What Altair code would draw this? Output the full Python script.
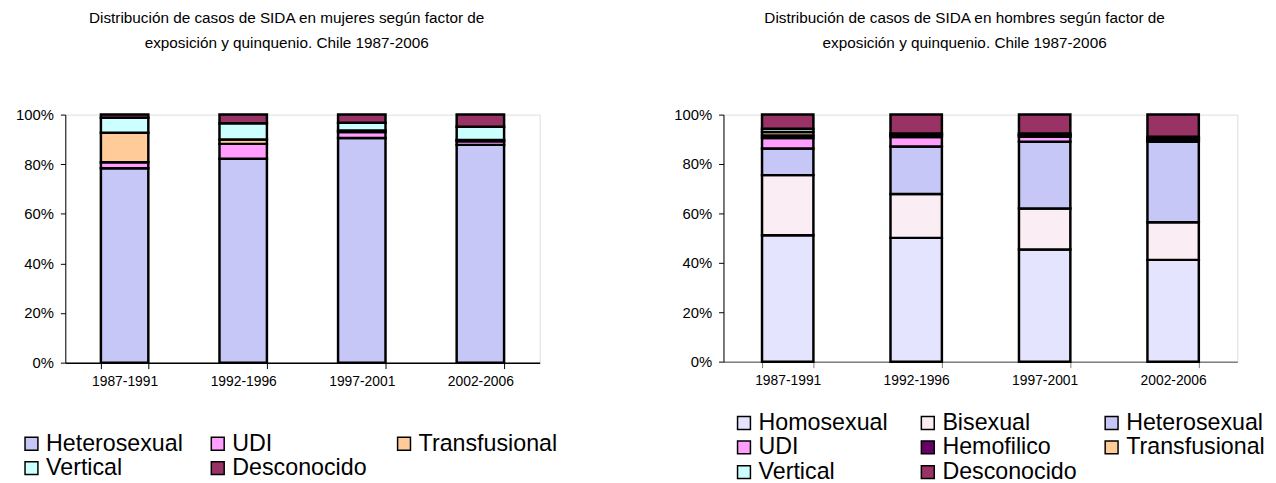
import altair as alt
import pandas as pd

quinquenios = ["1987-1991", "1992-1996", "1997-2001", "2002-2006"]

# Mujeres
factores_m = ["Heterosexual", "UDI", "Transfusional", "Vertical", "Desconocido"]
m_heterosexual = [78.4, 82.2, 90.6, 87.8]
m_udi = [2.4, 6.0, 2.4, 1.5]
m_transfusional = [11.9, 1.8, 0.6, 0.5]
m_vertical = [6.0, 6.5, 3.1, 5.3]
m_desconocido = [1.3, 3.5, 3.3, 4.9]
colores_m = ["#C6C6F7", "#FF9EFF", "#FFCC99", "#CCFFFF", "#993366"]

# Hombres
factores_h = ["Homosexual", "Bisexual", "Heterosexual", "UDI", "Hemofilico",
              "Transfusional", "Vertical", "Desconocido"]
h_homosexual = [51.2, 50.1, 45.4, 41.2]
h_bisexual = [24.3, 17.8, 16.6, 15.2]
h_heterosexual = [10.8, 19.2, 27.0, 32.6]
h_udi = [4.2, 3.8, 2.0, 0.6]
h_hemofilico = [1.0, 0.8, 0.5, 0.5]
h_transfusional = [1.5, 0.3, 0.4, 0.3]
h_vertical = [1.3, 0.4, 0.5, 0.6]
h_desconocido = [5.7, 7.6, 7.6, 9.0]
colores_h = ["#E4E4FF", "#FAEEF4", "#C6C6F7", "#FF9EFF", "#660066",
             "#FFCC99", "#CCFFFF", "#993366"]

titulo_m = ["Distribución de casos de SIDA en mujeres según factor de",
            "exposición y quinquenio. Chile 1987-2006"]
titulo_h = ["Distribución de casos de SIDA en hombres según factor de",
            "exposición y quinquenio. Chile 1987-2006"]

FONT = "Liberation Sans"


def long_df(factores, series):
    rows = []
    for i, (f, vals) in enumerate(zip(factores, series)):
        for q, v in zip(quinquenios, vals):
            rows.append({"quinquenio": q, "factor": f, "pct": v, "idx": i})
    return pd.DataFrame(rows)


df_m = long_df(factores_m, [m_heterosexual, m_udi, m_transfusional, m_vertical, m_desconocido])
df_h = long_df(factores_h, [h_homosexual, h_bisexual, h_heterosexual, h_udi, h_hemofilico,
                            h_transfusional, h_vertical, h_desconocido])


def panel(df, factores, colores, titulo, w, h, lx, ly, colpad, domain_x_color):
    return alt.Chart(df).mark_bar(stroke="black", strokeWidth=2.5).encode(
        x=alt.X("quinquenio:N", sort=quinquenios,
                scale=alt.Scale(paddingInner=0.6, paddingOuter=0.3),
                axis=alt.Axis(title=None, labelAngle=0, tickBand="extent",
                              domainColor=domain_x_color, tickColor=domain_x_color,
                              domainWidth=1.5, tickSize=6, labelFontSize=14,
                              labelColor="black", labelFont=FONT, labelPadding=6)),
        y=alt.Y("pct:Q", stack="normalize",
                scale=alt.Scale(domain=[0, 1]),
                axis=alt.Axis(title=None, values=[0, 0.2, 0.4, 0.6, 0.8, 1.0],
                              format=".0%", grid=False, domainColor="black",
                              tickColor="black", tickSize=5, labelFontSize=15,
                              labelColor="black", labelFont=FONT, labelPadding=7)),
        fill=alt.Fill("factor:N", scale=alt.Scale(domain=factores, range=colores),
                      legend=alt.Legend(title=None, orient="none", legendX=lx, legendY=ly,
                                        direction="horizontal",
                                        columns=3, gridAlign="all", columnPadding=colpad,
                                        rowPadding=0, symbolType="square", symbolSize=170,
                                        symbolStrokeColor="black", symbolStrokeWidth=1.5,
                                        symbolOpacity=1, labelFontSize=23.5, labelFont=FONT,
                                        labelColor="black", labelOffset=3, labelLimit=300)),
        order=alt.Order("idx:Q", sort="ascending"),
    ).properties(
        width=w, height=h,
        title=alt.TitleParams(text=titulo, fontSize=15.5, font=FONT, fontWeight="normal",
                              color="black", anchor="middle", offset=57, lineHeight=25, dx=-16),
    )


left = panel(df_m, factores_m, colores_m, titulo_m, 480, 251, -46, 321, 21.5, "black")
right = panel(df_h, factores_h, colores_h, titulo_h, 520, 250, 9, 300, 19, "#808080")

chart = alt.hconcat(left, right, spacing=186, bounds="flush").resolve_scale(
    fill="independent"
).resolve_legend(fill="independent").properties(
    padding={"left": 7, "top": 0, "right": 2, "bottom": 2}
).configure_view(stroke=None).configure(font=FONT)

chart.save("out.html", embed_options={"renderer": "svg", "actions": False})
